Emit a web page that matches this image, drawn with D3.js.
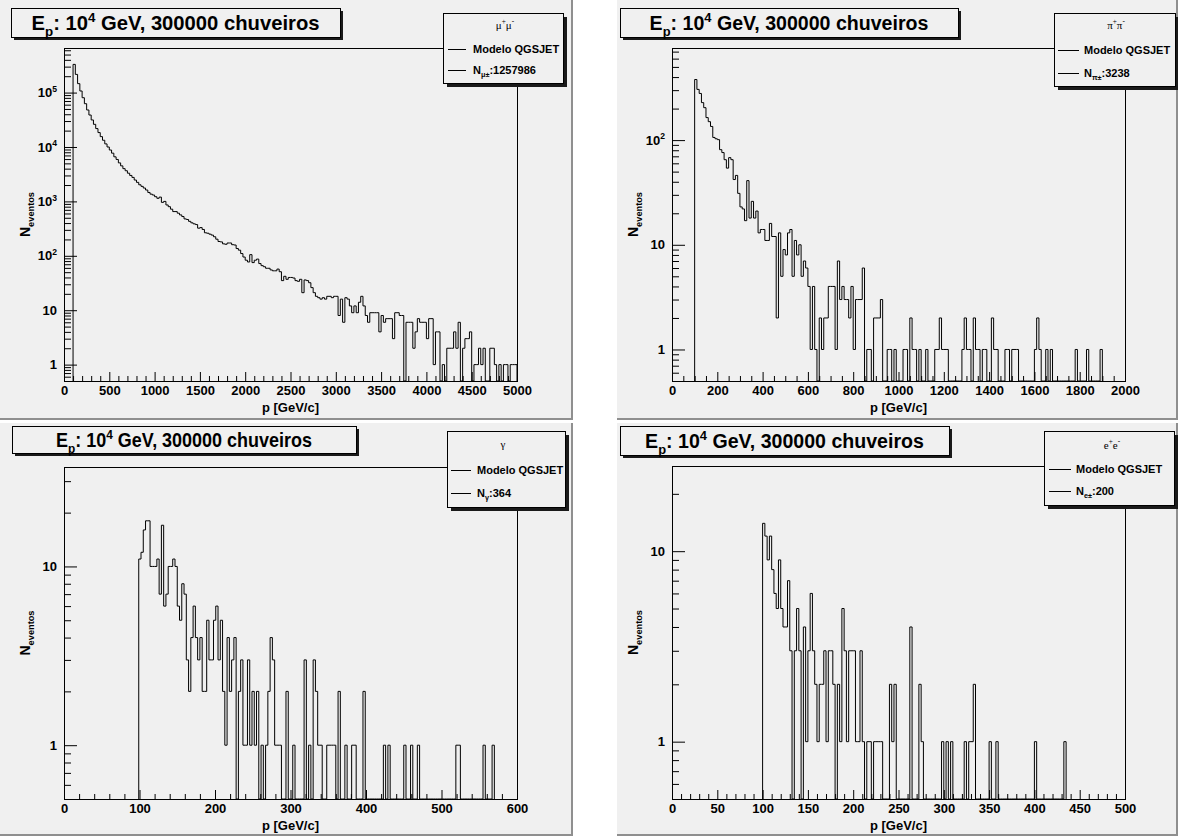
<!DOCTYPE html>
<html>
<head>
<meta charset="utf-8">
<script src="https://cdn.jsdelivr.net/npm/d3@7"></script>
<style>
  body { margin: 0; background: #fff; }
  text { font-family: "Liberation Sans", Arial, Helvetica, sans-serif; font-weight: bold; }
</style>
</head>
<body>
<div id="chart"></div>
<script>
// bin contents, first listed bin is the one holding 100 GeV
var muonCounts = [
  330000,216000,146000,107000,80500,62500,47900,38700,31400,26100,
  21800,18400,15500,13300,11400,10000,8800,7700,6600,5900,
  5100,4500,4000,3660,3300,3000,2760,2470,2240,2020,
  1890,1760,1620,1460,1360,1310,1220,1140,1200,960,
  1000,860,800,720,650,650,607,565,527,477,
  465,430,404,387,375,322,330,305,265,260,
  250,240,224,202,183,180,166,163,172,172,
  160,158,136,127,110,95,83,77,105,75,
  83,87,72,66,63,59,59,55,53,53,
  57,51,35,42,37,40,
  40,39,35,34,37,21,36,35,32,26,
  21,18,17,16,17,16,18,18,17,18,
  18,8,16,6,17,16,12,9,12,9,
  14,18,12,8,6,9,9,9,9,4,
  8,6,7,7,7,3,9,9,8,8,
  0,6,6,6,2,4,7,6,6,6,
  3,7,7,1,4,4,0,1,0,2,
  2,2,4,2,6,0,2,3,3,4,
  0,1,1,2,1,2,0,0,2,2,
  1,0,1,0,1,1,0,1,1,1
];
var pionCounts = [
  379,305,279,228,204,164,150,135,106,103,
  101,81,76,65,54,68,65,42,46,31,
  23,22,17,41,18,26,18,21,13,14,
  14,11,11,16,12,12,2,13,5,9,
  8,13,14,5,11,8,10,5,7,6,
  4,1,4,1,0,2,1,2,2,4,
  4,4,1,7,3,4,3,3,2,4,
  1,3,3,3,6,0,1,1,0,2,
  2,2,3,0,0,1,1,0,1,0,
  0,0,1,1,0,2,1,1,0,1,
  0,0,1,0,0,0,1,1,2,1,
  1,1,0,0,0,0,0,0,1,2,
  1,1,0,2,1,1,0,1,1,0,
  0,2,1,1,0,0,0,1,1,0,
  1,1,1,0,0,0,0,0,0,0,
  1,2,1,0,0,1,0,1,0,0,
  0,0,0,0,0,0,0,0,1,0,
  0,0,0,1,0,0,0,0,0,1
];
var gammaCounts = [
  11,12,16,18,18,10,10,
  10,11,7,17,6,7,10,10,11,10,
  6,5,8,7,3,2,4,6,4,3,
  4,2,2,5,3,3,5,6,3,5,
  2,1,4,2,3,4,0,2,3,1,
  1,3,1,2,1,2,0,1,0,1,
  2,4,3,1,1,1,0,0,2,0,
  0,1,0,0,0,0,3,0,1,0,
  3,2,1,1,0,0,1,1,1,1,
  0,2,0,0,1,0,0,1,1,0,
  0,0,2,0,0,0,0,0,0,0,
  0,1,0,1,0,0,0,0,0,0,
  1,0,0,1,0,0,1,0,0,0,
  0,0,0,0,0,0,0,0,0,0,
  0,0,0,1,1,0,0,0,0,0,
  0,0,0,0,0,1,0,0,0,1
];
var electronCounts = [
  14,12,9,12,8,6,5,9,5,4,
  4,7,3,0,3,5,3,0,4,1,
  3,6,3,2,1,2,2,3,1,3,
  3,2,0,2,1,5,3,1,3,3,
  3,1,1,3,1,0,1,1,0,1,
  1,1,1,0,0,0,2,1,2,0,
  0,0,0,0,0,4,0,0,0,2,
  1,0,0,0,0,0,0,0,0,1,
  0,1,0,1,0,0,0,0,0,1,
  0,1,1,2,0,0,0,0,0,0,
  1,0,0,1,0,0,0,0,0,0,
  0,0,0,0,0,0,0,0,0,0,
  1,0,0,0,0,0,0,0,0,0,
  0,0,0,1
];

var countSets = [muonCounts, pionCounts, gammaCounts, electronCounts];
var binWidths = [25, 10, 3, 2.5];
var firstBins = [4, 10, 33, 40];
var xMaxima = [5000, 2000, 600, 500];
var xLabelSteps = [500, 200, 100, 50];
var xMinorSteps = [100, 50, 20, 10];
var legendHeaders = ['μ^{+}μ^{-}', 'π^{+}π^{-}', 'γ', 'e^{+}e^{-}'];
var legendTotals = ['N_{μ±}:1257986', 'N_{π±}:3238', 'N_{γ}:364', 'N_{e±}:200'];
var modelLabel = 'Modelo QGSJET';
var panelTitle = 'E_{p}: 10^{4} GeV, 300000 chuveiros';
var xTitle = 'p [GeV/c]';
var yTitle = 'N_{eventos}';

var W = 1178, H = 836;
var padColor = '#f0f0f0';

var layouts = [
  {pad: [0, 0, 573, 420], frame: [64, 48, 517, 381], title: [11, 8, 340, 37], titleW: 288,
   legend: [443, 13, 563, 83], legLine: [448, 466], legText: 473, legRows: [49, 70], legHead: [505, 25]},
  {pad: [617, 0, 1178, 420], frame: [672, 48, 1125, 381], title: [620, 8, 958, 37], titleW: 279,
   legend: [1054, 13, 1175, 86], legLine: [1058, 1079], legText: 1084, legRows: [50, 73], legHead: [1116, 25]},
  {pad: [0, 423, 573, 836], frame: [64, 467, 517, 799], title: [12, 426, 356, 453], titleW: 256,
   legend: [447, 431, 565, 507], legLine: [451, 471], legText: 477, legRows: [470, 493], legHead: [503, 444]},
  {pad: [617, 423, 1178, 836], frame: [672, 466, 1125, 799], title: [620, 426, 949, 455], titleW: 279,
   legend: [1044, 431, 1174, 505], legLine: [1049, 1071], legText: 1076, legRows: [469, 491], legHead: [1112, 445]}
];

var svg = d3.select('#chart').append('svg')
  .attr('width', W).attr('height', H)
  .style('display', 'block');

svg.append('rect').attr('width', W).attr('height', H).attr('fill', '#fff');

// tiny ROOT-like markup: _{..} subscript, ^{..} superscript
function richText(sel, str, size) {
  var re = /([_^])\{([^}]*)\}|([^_^]+)/g, m, shift = 0;
  while ((m = re.exec(str))) {
    var t = sel.append('tspan');
    if (m[3] !== undefined) {
      t.text(m[3]);
      if (shift !== 0) t.attr('dy', -shift);
      shift = 0;
    } else {
      var s = m[1] === '^' ? -0.42 * size : 0.28 * size;
      t.text(m[2]).attr('font-size', size * 0.66).attr('dy', s - shift);
      shift = s;
    }
  }
}

function fitWidth(t, w, cx) {
  var bw = t.node().getBBox().width;
  t.attr('transform', 'translate(' + cx + ',0) scale(' + (w / bw) + ',1) translate(' + (-cx) + ',0)');
}

function drawPanel(i) {
  var L = layouts[i], f = L.frame, p = L.pad;
  var counts = countSets[i], bw = binWidths[i], first = firstBins[i];
  var g = svg.append('g');

  // pad with darker right / bottom edge
  g.append('rect')
    .attr('x', p[0]).attr('y', p[1])
    .attr('width', p[2] - p[0]).attr('height', p[3] - p[1])
    .attr('fill', padColor);
  g.append('path')
    .attr('d', 'M' + (p[2] - 1) + ',' + p[1] + 'V' + (p[3] - 1) + 'H' + p[0])
    .attr('fill', 'none').attr('stroke', '#8f8f8f').attr('stroke-width', 2);

  var x = d3.scaleLinear().domain([0, xMaxima[i]]).range([f[0], f[2]]);
  var y = d3.scaleLog().domain([0.5, 2 * d3.max(counts)]).range([f[3], f[1]]);

  var clipId = 'clip' + i;
  g.append('clipPath').attr('id', clipId).append('rect')
    .attr('x', f[0]).attr('y', f[1]).attr('width', f[2] - f[0]).attr('height', f[3] - f[1]);

  // histogram outline, empty bins drop to the frame bottom
  var pts = [[first * bw, 0]];
  counts.forEach(function(c, k) { pts.push([(first + k) * bw, c]); });
  var hi = (first + counts.length) * bw;
  pts.push([hi, counts[counts.length - 1]]);
  pts.push([hi, 0]);

  var line = d3.line().curve(d3.curveStepAfter)
    .x(function(d) { return x(d[0]); })
    .y(function(d) { return d[1] > 0 ? y(d[1]) : f[3]; });

  g.append('path')
    .datum(pts)
    .attr('clip-path', 'url(#' + clipId + ')')
    .attr('d', line)
    .attr('fill', 'none')
    .attr('stroke', '#000')
    .attr('stroke-width', 1);

  // x axis
  var xMajors = d3.range(0, xMaxima[i] + 1e-6, xLabelSteps[i]);
  var xMinors = d3.range(0, xMaxima[i], xMinorSteps[i]).filter(function(v) { return v % xLabelSteps[i] !== 0; });

  var xa = g.append('g').attr('transform', 'translate(0,' + f[3] + ')')
    .call(d3.axisBottom(x).tickValues(xMajors).tickSize(-9).tickPadding(5).tickFormat(d3.format('d')));
  g.append('g').attr('transform', 'translate(0,' + f[3] + ')')
    .call(d3.axisBottom(x).tickValues(xMinors).tickSize(-5).tickFormat(''))
    .select('.domain').remove();
  xa.select('.domain').remove();
  xa.attr('font-family', null).attr('font-size', 13);

  // y axis (log)
  var ymax = y.domain()[1];
  var decades = d3.range(0, 7).map(function(e) { return Math.pow(10, e); }).filter(function(v) { return v <= ymax; });
  var yMinors = [];
  [-1, 0, 1, 2, 3, 4, 5].forEach(function(e) {
    for (var k = 2; k <= 9; k++) {
      var v = k * Math.pow(10, e);
      if (v >= 0.5 && v <= ymax) yMinors.push(v);
    }
  });

  var ya = g.append('g').attr('transform', 'translate(' + f[0] + ',0)')
    .call(d3.axisLeft(y).tickValues(decades).tickSize(-13).tickPadding(7).tickFormat(''));
  g.append('g').attr('transform', 'translate(' + f[0] + ',0)')
    .call(d3.axisLeft(y).tickValues(yMinors).tickSize(-7).tickFormat(''))
    .select('.domain').remove();
  ya.select('.domain').remove();
  ya.attr('font-family', null).attr('font-size', 13);
  ya.selectAll('.tick text').each(function(d) {
    var t = d3.select(this);
    if (d < 100) t.text(d);
    else richText(t, '10^{' + Math.round(Math.log10(d)) + '}', 13);
  });

  // frame
  g.append('rect')
    .attr('x', f[0] + 0.5).attr('y', f[1] + 0.5)
    .attr('width', f[2] - f[0]).attr('height', f[3] - f[1])
    .attr('fill', 'none').attr('stroke', '#000').attr('stroke-width', 1);

  // axis titles
  g.append('text')
    .attr('x', (f[0] + f[2]) / 2).attr('y', f[3] + 31)
    .attr('text-anchor', 'middle').attr('font-size', 13)
    .text(xTitle);

  var yt = g.append('text')
    .attr('transform', 'translate(' + (f[0] - 34) + ',' + ((f[1] + f[3]) / 2) + ') rotate(-90)')
    .attr('text-anchor', 'middle').attr('font-size', 14);
  richText(yt, yTitle, 14);

  // title pave
  var tb = L.title;
  g.append('rect')
    .attr('x', tb[0] + 3).attr('y', tb[1] + 3)
    .attr('width', tb[2] - tb[0]).attr('height', tb[3] - tb[1])
    .attr('fill', '#1a1a1a');
  g.append('rect')
    .attr('x', tb[0] + 0.5).attr('y', tb[1] + 0.5)
    .attr('width', tb[2] - tb[0]).attr('height', tb[3] - tb[1])
    .attr('fill', padColor).attr('stroke', '#000').attr('stroke-width', 1);
  var tcx = (tb[0] + tb[2]) / 2;
  var tt = g.append('text')
    .attr('x', tcx).attr('y', (tb[1] + tb[3]) / 2 + 8)
    .attr('text-anchor', 'middle').attr('font-size', 20);
  richText(tt, panelTitle, 20);
  fitWidth(tt, L.titleW, tcx);

  // legend
  var lb = L.legend;
  g.append('rect')
    .attr('x', lb[0] + 4).attr('y', lb[1] + 4)
    .attr('width', lb[2] - lb[0]).attr('height', lb[3] - lb[1])
    .attr('fill', '#1a1a1a');
  g.append('rect')
    .attr('x', lb[0] + 0.5).attr('y', lb[1] + 0.5)
    .attr('width', lb[2] - lb[0]).attr('height', lb[3] - lb[1])
    .attr('fill', padColor).attr('stroke', '#000').attr('stroke-width', 1);

  var lh = g.append('text')
    .attr('x', L.legHead[0]).attr('y', L.legHead[1] + 4)
    .attr('text-anchor', 'middle').attr('font-size', 11)
    .style('font-family', '"Liberation Serif", "DejaVu Serif", serif')
    .style('font-weight', 'normal');
  richText(lh, legendHeaders[i], 11);

  [modelLabel, legendTotals[i]].forEach(function(label, r) {
    var ry = L.legRows[r];
    g.append('line')
      .attr('x1', L.legLine[0]).attr('x2', L.legLine[1])
      .attr('y1', ry + 0.5).attr('y2', ry + 0.5)
      .attr('stroke', '#000').attr('stroke-width', 1);
    var lt = g.append('text')
      .attr('x', L.legText).attr('y', ry + 4)
      .attr('font-size', 11);
    richText(lt, label, 11);
  });
}

[0, 1, 2, 3].forEach(drawPanel);
</script>
</body>
</html>
